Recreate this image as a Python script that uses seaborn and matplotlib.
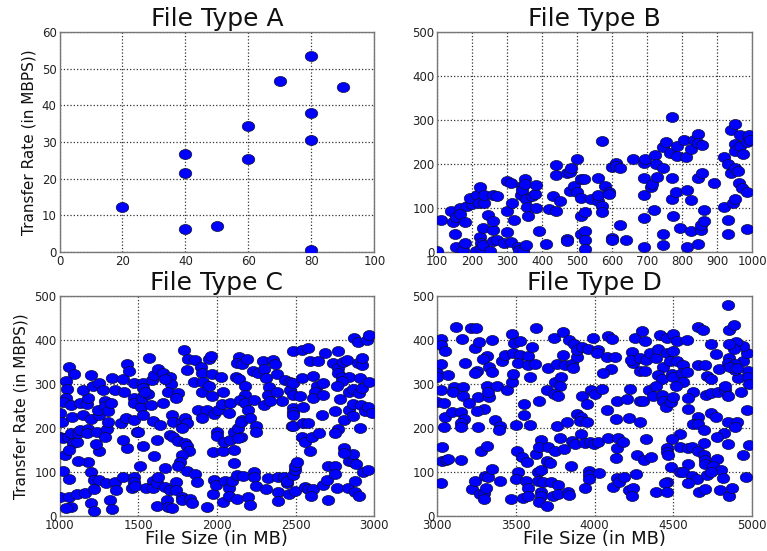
import matplotlib
matplotlib.use("Agg")
import matplotlib.pyplot as plt
from matplotlib.markers import MarkerStyle
from matplotlib.transforms import Affine2D
import numpy as np
import pandas as pd
import seaborn as sns

titles = ["File Type A", "File Type B", "File Type C", "File Type D"]
x_label = "File Size (in MB)"
y_label = "Transfer Rate (in MBPS))"

# (file size, transfer rate)
points_a = [(20, 12.3), (40, 6.2), (40, 21.4), (40, 26.7), (50, 7.1), (60, 25.2), (60, 34.3),
            (70, 46.7), (80, 0.6), (80, 30.5), (80, 37.8), (80, 53.4), (90, 45)]

points_b = [(100, 3), (110, 73), (140, 93), (145, 67), (155, 80), (165, 100), (165, 85), (150, 40),
            (155, 10), (175, 5), (180, 68), (185, 105), (180, 20), (200, 108), (195, 122), (210, 3),
            (215, 130), (220, 112), (222, 147), (222, 33), (225, 20), (225, 8), (230, 15), (230, 55),
            (235, 110), (235, 130), (245, 83), (250, 3), (260, 50), (260, 70), (260, 130), (260, 25),
            (270, 27), (272, 127), (290, 20), (300, 45), (300, 92), (300, 160), (310, 157), (312, 22),
            (315, 112), (320, 72), (330, 12), (335, 5), (340, 130), (342, 150), (342, 140), (345, 3),
            (350, 165), (350, 155), (353, 15), (355, 120), (358, 103), (360, 82), (370, 128), (380, 132),
            (382, 152), (382, 100), (390, 47), (410, 18), (420, 98), (430, 127), (440, 93), (440, 197),
            (440, 175), (450, 115), (470, 180), (470, 30), (470, 24), (480, 182), (480, 138), (482, 190),
            (490, 150), (500, 137), (500, 210), (510, 165), (510, 82), (510, 40), (512, 123), (520, 165),
            (522, 48), (522, 90), (522, 28), (522, 6), (540, 120), (560, 115), (560, 167), (560, 130),
            (570, 253), (570, 105), (570, 90), (580, 150), (590, 135), (590, 132), (600, 192), (600, 32),
            (600, 28), (610, 202), (612, 195), (622, 190), (622, 60), (640, 27), (660, 210), (690, 202),
            (690, 130), (692, 168), (692, 77), (692, 10), (695, 212), (710, 148), (715, 155), (720, 95),
            (722, 220), (725, 200), (728, 170), (745, 190), (745, 238), (745, 40), (745, 15), (755, 250),
            (765, 225), (770, 120), (770, 168), (775, 82), (772, 307), (783, 135), (785, 240), (785, 217),
            (795, 55), (805, 255), (812, 215), (815, 10), (815, 140), (825, 47), (825, 118), (825, 235),
            (835, 255), (845, 168), (845, 268), (845, 247), (845, 18), (855, 50), (855, 60), (858, 180),
            (858, 242), (862, 70), (862, 95), (890, 157), (920, 215), (920, 103), (930, 72), (930, 40),
            (932, 200), (940, 180), (940, 278), (945, 110), (950, 120), (950, 290), (950, 245), (950, 230),
            (952, 190), (960, 183), (962, 157), (965, 265), (965, 240), (972, 145), (975, 222), (985, 135),
            (985, 53), (985, 250), (992, 265), (995, 255)]

points_c = [(1063, 339), (1093, 323), (1040, 307), (1047, 288), (1040, 267), (1025, 258), (1074, 252),
            (1000, 233), (1015, 214), (1078, 225), (1000, 178), (1021, 176), (1057, 180), (1074, 187),
            (1085, 165), (1114, 168), (1116, 187), (1131, 195), (1131, 256), (1148, 228), (1173, 254),
            (1178, 267), (1152, 286), (1199, 320), (1212, 294), (1199, 219), (1184, 197), (1173, 187),
            (1237, 190), (1248, 228), (1243, 240), (1252, 301), (1279, 286), (1290, 260), (1290, 250),
            (1301, 197), (1290, 178), (1311, 214), (1311, 239), (1328, 256), (1332, 313), (1353, 285),
            (1389, 210), (1423, 222), (1410, 282), (1402, 311), (1431, 345), (1442, 328), (1474, 301),
            (1474, 267), (1474, 256), (1474, 218), (1495, 191), (1516, 248), (1523, 267), (1529, 301),
            (1533, 290), (1533, 229), (1565, 277), (1540, 282), (1580, 252), (1586, 309), (1601, 320),
            (1592, 216), (1639, 206), (1628, 334), (1660, 324), (1660, 256), (1703, 316), (1707, 300),
            (1671, 311), (1688, 282), (1755, 280), (1738, 267), (1713, 228), (1724, 214), (1776, 214),
            (1798, 222), (1808, 210), (1776, 199), (1569, 359),
            (1000, 43), (1063, 43), (1072, 20), (1042, 17), (1063, 83), (1025, 102), (1199, 100),
            (1180, 123), (1116, 124), (1032, 138), (1063, 150), (1248, 147), (1233, 163), (1427, 153),
            (1406, 172), (1533, 159), (1601, 136), (1622, 172), (1703, 184), (1719, 178), (1755, 170),
            (1798, 165), (1812, 159), (1823, 147), (1776, 138), (1766, 123), (1755, 113), (1501, 191),
            (1110, 49), (1163, 51), (1199, 28), (1216, 11), (1216, 81), (1220, 60), (1252, 81), (1296, 74),
            (1322, 36), (1332, 15), (1353, 76), (1357, 58), (1402, 87), (1474, 89), (1474, 77), (1459, 64),
            (1480, 68), (1512, 112), (1548, 64), (1592, 80), (1592, 64), (1618, 22), (1618, 74), (1628, 87),
            (1671, 66), (1671, 108), (1681, 36), (1692, 19), (1717, 18), (1703, 58), (1738, 77), (1738, 58),
            (1776, 43), (1776, 36), (1808, 102), (1829, 37), (1840, 28), (1861, 94), (1872, 77), (1935, 19),
            (1978, 49), (1982, 81), (1992, 70), (2041, 32), (2051, 80), (2077, 64), (2077, 46), (2094, 80),
            (2126, 93), (2130, 37), (2168, 90), (2200, 43), (2210, 24), (2238, 100), (2238, 89), (2248, 68),
            (2310, 60), (2327, 85), (2390, 89), (2426, 89), (2390, 55), (2390, 34), (2443, 74), (2447, 80),
            (2460, 49), (2496, 57), (2485, 93), (2496, 104), (2496, 112), (2511, 123), (2560, 66), (2581, 61),
            (2608, 61), (2598, 46), (2676, 70), (2697, 81), (2708, 36), (2766, 62), (2835, 62), (2877, 80),
            (2877, 55), (2904, 46), (2930, 100), (2961, 103), (2708, 114), (2750, 114), (2750, 94),
            (2839, 125), (2866, 123), (2883, 118), (2866, 140), (2809, 155), (2809, 143),
            (1790, 377), (1812, 332), (1819, 356), (1861, 354), (1901, 339), (1908, 324), (1855, 303),
            (1914, 303), (1908, 282), (1950, 295), (1952, 356), (1961, 364), (1969, 322), (1969, 272),
            (1882, 240), (1935, 240), (1908, 223), (1982, 231), (2009, 240), (2030, 253), (2083, 256),
            (2077, 233), (2024, 316), (2041, 281), (1999, 190), (1999, 181), (1978, 144), (2041, 148),
            (2045, 168), (2083, 172), (2111, 191), (2136, 199), (2153, 180), (2136, 176), (2111, 150),
            (2111, 119), (2122, 316), (2141, 311), (2141, 362), (2130, 347), (2157, 344), (2193, 357),
            (2178, 296), (2178, 275), (2147, 263), (2178, 256), (2200, 240), (2157, 218), (2151, 212),
            (2210, 222), (2248, 204), (2248, 191), (2238, 263), (2232, 329), (2263, 324), (2295, 351),
            (2301, 334), (2310, 314), (2331, 292), (2327, 275), (2299, 252), (2337, 260), (2384, 281),
            (2411, 260), (2358, 354), (2369, 344), (2380, 323), (2433, 309), (2464, 303), (2464, 286),
            (2481, 301), (2485, 275), (2528, 273), (2481, 244), (2481, 237), (2481, 228), (2549, 247),
            (2475, 203), (2485, 204), (2545, 210), (2581, 210), (2538, 178), (2560, 168), (2602, 178),
            (2651, 187), (2591, 147), (2670, 229), (2538, 313), (2613, 318), (2634, 294), (2672, 301),
            (2623, 282), (2613, 267), (2672, 275), (2485, 375), (2538, 377), (2581, 382), (2591, 351),
            (2644, 352), (2685, 371), (2770, 375), (2739, 348), (2770, 335), (2770, 324), (2803, 349),
            (2828, 353), (2792, 316), (2839, 315), (2796, 306), (2766, 296), (2839, 281), (2782, 265),
            (2750, 239), (2839, 240), (2809, 218), (2866, 227), (2866, 253), (2866, 288), (2904, 278),
            (2919, 290), (2908, 314), (2898, 347), (2923, 343), (2919, 358), (2872, 404), (2898, 394),
            (2951, 400), (2968, 410), (2968, 303), (2913, 252), (2940, 238), (2961, 248), (2983, 234),
            (2908, 200), (2770, 197), (2750, 187)]

points_d = [(3023, 402), (3023, 389), (3049, 375), (3023, 345), (3000, 324), (3000, 316), (3066, 319),
            (3023, 286), (3106, 292), (3165, 292), (3102, 281), (3165, 272), (3256, 269), (3000, 258),
            (3044, 256), (3201, 256), (3297, 243), (3250, 238), (3049, 225), (3091, 237), (3150, 235),
            (3169, 220), (3150, 210), (3150, 201), (3042, 201), (3256, 201), (3367, 218), (3398, 205),
            (3392, 195), (3032, 157), (3028, 125), (3053, 127), (3070, 129), (3150, 127), (3275, 148),
            (3318, 159), (3023, 75), (3218, 61), (3239, 80), (3271, 49), (3297, 52), (3309, 62), (3299, 39),
            (3303, 91), (3320, 89), (3345, 106), (3398, 79), (3119, 430), (3159, 402), (3212, 427),
            (3244, 427), (3176, 347), (3239, 381), (3267, 396), (3250, 328), (3239, 324), (3318, 364),
            (3292, 356), (3331, 339), (3345, 326), (3345, 400), (3318, 295), (3328, 271), (3324, 281),
            (3381, 294), (3413, 351), (3430, 366), (3445, 285), (3473, 305), (3483, 322), (3473, 414),
            (3489, 392), (3525, 398), (3483, 371), (3525, 366), (3515, 347), (3578, 364), (3600, 383),
            (3578, 343), (3621, 345), (3589, 316), (3625, 428), (3742, 404), (3801, 417), (3837, 400),
            (3869, 391), (3706, 337), (3759, 345), (3811, 342), (3797, 366), (3854, 345), (3860, 335),
            (3886, 362), (3886, 377), (3917, 383), (3960, 379), (3992, 404), (4024, 377), (4017, 370),
            (4077, 362), (4087, 409), (4108, 402), (4129, 362), (4102, 334), (4055, 324), (3748, 305),
            (3784, 315), (3780, 294), (3695, 285), (3742, 277), (3769, 272), (3646, 261), (3551, 253),
            (3551, 229), (3500, 206), (3589, 206), (3759, 203), (3822, 212), (3922, 272), (3949, 254),
            (3886, 231), (3913, 225), (3907, 216), (3949, 214), (3975, 286), (4002, 277), (4049, 288),
            (4077, 241), (4136, 220), (4144, 261), (4207, 265), (4218, 223), (4288, 212), (4225, 288),
            (4288, 261), (4309, 260), (3657, 172), (3625, 140), (3648, 156), (3706, 157), (3748, 147),
            (3780, 176), (3805, 151), (3854, 170), (3875, 163), (3911, 185), (3939, 165), (3970, 168),
            (3998, 163), (4024, 167), (4087, 176), (4146, 176), (4144, 153), (4178, 168), (4136, 132),
            (4326, 175), (3508, 147), (3536, 134), (3568, 123), (3515, 100), (3498, 83), (3562, 80),
            (3578, 64), (3547, 41), (3578, 45), (3468, 39), (3642, 100), (3657, 105), (3695, 124),
            (3716, 121), (3642, 80), (3670, 77), (3720, 77), (3769, 70), (3657, 55), (3657, 45), (3648, 32),
            (3695, 22), (3737, 46), (3769, 49), (3833, 55), (3839, 47), (3850, 113), (3964, 102), (3964, 93),
            (3964, 83), (4030, 98), (3939, 62), (4119, 65), (4144, 85), (4157, 77), (4189, 87), (4220, 58),
            (4246, 64), (4235, 45), (4261, 94), (4271, 138), (4316, 127), (4358, 133), (4392, 55),
            (4239, 373), (4246, 347), (4229, 353), (4256, 405), (4299, 419), (4320, 398), (4288, 358),
            (4288, 328), (4320, 329), (4326, 354), (4352, 370), (4388, 358), (4415, 410), (4458, 405),
            (4496, 414), (4521, 398), (4589, 400), (4405, 380), (4458, 371), (4500, 375), (4437, 339),
            (4479, 352), (4521, 351), (4559, 343), (4405, 319), (4430, 311), (4494, 323), (4500, 316),
            (4553, 324), (4585, 326), (4564, 305), (4517, 294), (4627, 282), (4347, 286), (4388, 295),
            (4373, 273), (4426, 275), (4437, 262), (4451, 248), (4485, 258), (4496, 271), (4596, 267),
            (4596, 242), (4659, 225), (4627, 208), (4659, 208), (4697, 195), (4655, 429), (4687, 423),
            (4659, 342), (4702, 342), (4742, 391), (4769, 367), (4712, 318), (4740, 311), (4708, 275),
            (4740, 279), (4786, 282), (4828, 285), (4828, 296), (4790, 334), (4849, 272), (4740, 233),
            (4769, 225), (4849, 212), (4907, 212), (4892, 201), (4822, 187), (4776, 180), (4845, 163),
            (4543, 186), (4489, 175), (4543, 157), (4596, 153), (4621, 157), (4458, 153), (4462, 146),
            (4469, 137), (4485, 110), (4659, 147), (4697, 165), (4697, 138), (4702, 127), (4702, 117),
            (4780, 129), (4755, 112), (4801, 105), (4596, 117), (4543, 99), (4564, 99), (4617, 91),
            (4653, 83), (4596, 75), (4462, 77), (4447, 74), (4462, 55), (4666, 55), (4702, 61), (4712, 93),
            (4740, 99), (4797, 58), (4818, 85), (4856, 45), (4871, 64), (4960, 89), (4945, 137), (4981, 161),
            (4970, 241), (4928, 282), (4909, 313), (4977, 330), (4977, 316), (4981, 299), (4945, 351),
            (4970, 371), (4945, 385), (4896, 396), (4888, 379), (4856, 391), (4856, 423), (4888, 434),
            (4845, 479), (4856, 358), (4849, 347), (4892, 345), (4892, 332), (4860, 339), (4902, 335)]

x_ticks_a = [0, 20, 40, 60, 80, 100]
x_ticks_b = [100, 200, 300, 400, 500, 600, 700, 800, 900, 1000]
x_ticks_c = [1000, 1500, 2000, 2500, 3000]
x_ticks_d = [3000, 3500, 4000, 4500, 5000]
y_ticks_a = [0, 10, 20, 30, 40, 50, 60]
y_ticks_rate = [0, 100, 200, 300, 400, 500]

panels = [
    (points_a, x_ticks_a, y_ticks_a),
    (points_b, x_ticks_b, y_ticks_rate),
    (points_c, x_ticks_c, y_ticks_rate),
    (points_d, x_ticks_d, y_ticks_rate),
]

sns.set_theme(style="white", font="DejaVu Sans")

fig, axes = plt.subplots(2, 2, figsize=(7.67, 5.51), dpi=100)
fig.subplots_adjust(left=0.0776, right=0.9805, top=0.942, bottom=0.064, wspace=0.2, hspace=0.2)

# the original picture was stretched sideways, so the dots are wide ellipses
oval = MarkerStyle("o", transform=Affine2D().scale(1.25, 1.0))

for idx, (points, x_ticks, y_ticks) in enumerate(panels):
    ax = axes.flat[idx]
    df = pd.DataFrame(np.array(points), columns=["size", "rate"])
    sns.scatterplot(data=df, x="size", y="rate", ax=ax, marker=oval, s=52,
                    color="#0000ff", edgecolor="#101030", linewidth=0.5, zorder=3)

    ax.set_xlim(x_ticks[0], x_ticks[-1])
    ax.set_ylim(y_ticks[0], y_ticks[-1])
    ax.set_xticks(x_ticks)
    ax.set_yticks(y_ticks)
    ax.grid(True, linestyle=":", color="#333333", linewidth=0.9)
    ax.set_axisbelow(True)
    ax.tick_params(labelsize=8.5, length=0, pad=2, colors="#222222")
    ax.set_title(titles[idx], fontsize=18, pad=4, color="#111111")
    for spine in ax.spines.values():
        spine.set_color("#777777")
        spine.set_linewidth(1.0)

    ax.set_xlabel(x_label if idx >= 2 else "", fontsize=13, labelpad=-1, color="#111111")
    ax.set_ylabel(y_label if idx % 2 == 0 else "", fontsize=11, labelpad=4, color="#111111")

plt.savefig("out.png", dpi=100)
plt.close()
